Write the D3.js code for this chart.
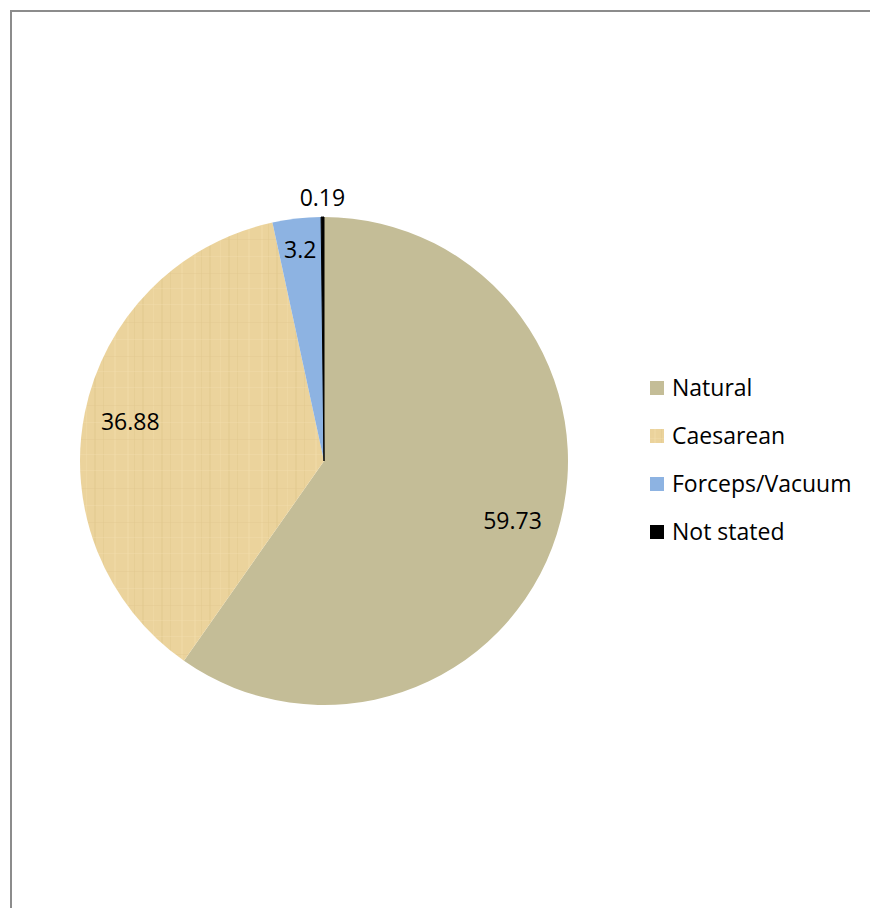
<!DOCTYPE html>
<html><head><meta charset="utf-8">
<script src="https://cdn.jsdelivr.net/npm/d3@7"></script>
<style>html,body{margin:0;padding:0;background:#fff;}svg{display:block;}</style>
</head><body>
<svg id="chart" width="870" height="908"></svg>
<script>
const categories = ["Natural", "Caesarean", "Forceps/Vacuum", "Not stated"];
const values = [59.73, 36.88, 3.2, 0.19];
const valueLabels = ["59.73", "36.88", "3.2", "0.19"];
const colors = ["#C4BD97", "#EBD39C", "#8DB3E2", "#000000"];

const svg = d3.select("#chart");
const W = 870, H = 908;
const font = "'Open Sans', sans-serif";

// frame
svg.append("path")
  .attr("d", `M11,${H} L11,11 L${W},11`)
  .attr("fill", "none").attr("stroke", "#8c8c8c").attr("stroke-width", 2);

// papyrus-like texture for Caesarean
const defs = svg.append("defs");
const pat = defs.append("pattern").attr("id", "papyrus")
  .attr("patternUnits", "userSpaceOnUse").attr("width", 67).attr("height", 83);
pat.append("rect").attr("width", 67).attr("height", 83).attr("fill", colors[1]);
const vx = [4, 11, 19, 30, 38, 47, 58];
vx.forEach((x, i) => pat.append("rect").attr("x", x).attr("y", 0).attr("width", i % 2 ? 1 : 2).attr("height", 83)
  .attr("fill", i % 3 ? "#E1C78D" : "#F2DCA9").attr("opacity", 0.45));
const hy = [9, 27, 44, 61, 76];
hy.forEach((y, i) => pat.append("rect").attr("x", 0).attr("y", y).attr("width", 67).attr("height", 1)
  .attr("fill", i % 2 ? "#E0C68C" : "#F3DEAD").attr("opacity", 0.35));

const cx = 324, cy = 461, R = 244;
const g = svg.append("g").attr("transform", `translate(${cx},${cy})`);

const pie = d3.pie().sort(null).value(d => d.v);
const data = values.map((v, i) => ({ v, name: categories[i], label: valueLabels[i], i }));
const arcs = pie(data);
const arc = d3.arc().innerRadius(0).outerRadius(R);

g.selectAll("path.slice").data(arcs).join("path")
  .attr("class", "slice")
  .attr("d", arc)
  .attr("fill", d => d.data.i === 1 ? "url(#papyrus)" : colors[d.data.i])
  .attr("stroke", d => d.data.i === 3 ? "#000" : "none")
  .attr("stroke-width", 1);

function labelR(v) { return v < 1 ? 1.08 * R : v < 5 ? 0.87 * R : 0.81 * R; }
g.selectAll("text.lbl").data(arcs).join("text")
  .attr("class", "lbl")
  .attr("transform", d => {
    const a = (d.startAngle + d.endAngle) / 2, r = labelR(d.data.v);
    return `translate(${r * Math.sin(a)},${-r * Math.cos(a)})`;
  })
  .attr("text-anchor", "middle").attr("dy", "0.35em")
  .attr("font-family", font).attr("font-size", 23).attr("fill", "#000")
  .text(d => d.data.label);

// legend
const leg = svg.append("g").attr("transform", "translate(650,381)");
const items = leg.selectAll("g").data(data).join("g")
  .attr("transform", (d, i) => `translate(0,${i * 48})`);
items.append("rect").attr("width", 14).attr("height", 14)
  .attr("fill", d => d.i === 1 ? "url(#papyrus)" : colors[d.i]);
items.append("text").attr("x", 22).attr("y", 7).attr("dy", "0.35em")
  .attr("font-family", font).attr("font-size", 23).attr("fill", "#000")
  .text(d => d.name);
</script>
</body></html>
